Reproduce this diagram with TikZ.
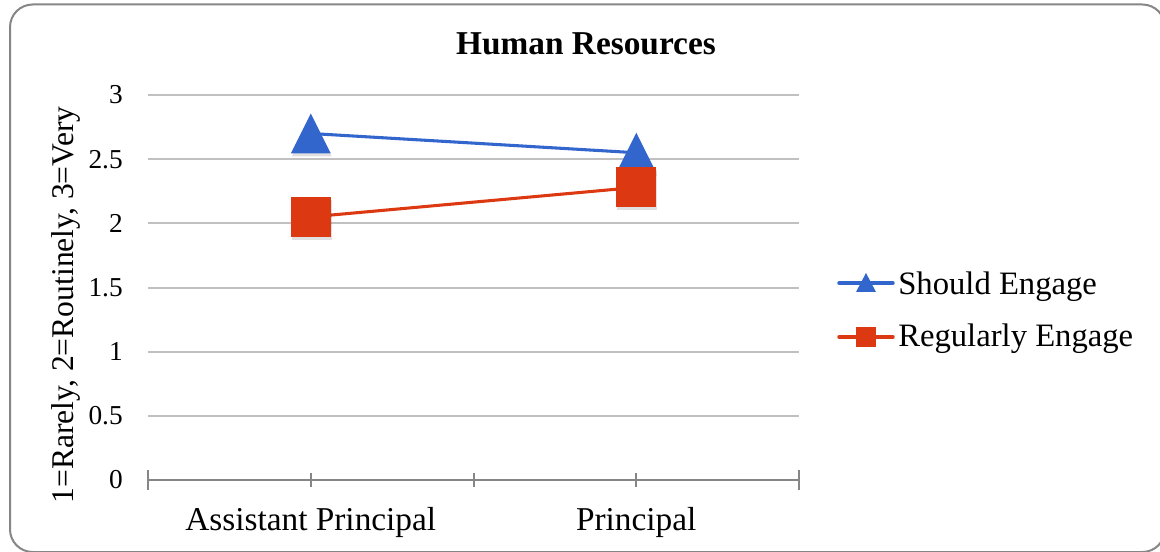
\documentclass[tikz,border=0pt]{standalone}
\usepackage{fontspec}
\setmainfont{Liberation Serif}
\definecolor{shouldblue}{RGB}{51,102,204}
\definecolor{regred}{RGB}{220,57,18}
\definecolor{gridgray}{RGB}{192,192,192}
\definecolor{axisgray}{RGB}{134,134,134}
\tikzset{
  gridline/.style={gridgray,line width=1.5pt},
  axisline/.style={axisgray,line width=1.5pt},
  series/.style={line width=2.3pt},
  ticklab/.style={anchor=east,inner sep=0pt,font=\fontsize{20.5}{24}\selectfont},
  catlab/.style={anchor=base,inner sep=0pt,font=\fontsize{25}{30}\selectfont},
  leglab/.style={anchor=base west,inner sep=0pt,font=\fontsize{24.5}{29}\selectfont},
  shadow/.style={black,opacity=0.12}
}
\begin{document}
\begin{tikzpicture}[x=0.75pt,y=-0.75pt]
	\useasboundingbox (0,0) rectangle (1160,552);
	\draw[axisgray,line width=1.5pt,rounded corners=17pt] (10,4.5) rectangle (1165,552);
	
	\node[anchor=base,inner sep=0pt,font=\fontsize{25}{30}\selectfont\bfseries] (title) at (586,55) {Human Resources};
	
	\foreach \v/\lab in {0.5/0.5,1/1,1.5/1.5,2/2,2.5/2.5,3/3}
		\draw[gridline] (148,480-\v*128.33) -- (799,480-\v*128.33);
	\foreach \v/\lab in {0/0,0.5/0.5,1/1,1.5/1.5,2/2,2.5/2.5,3/3}
		\node[ticklab] (y\lab) at (123,480-\v*128.33) {\lab};
	\draw[axisline] (148,480) -- (799,480);
	\foreach \x in {148,799}
		\draw[axisline] (\x,470) -- (\x,490);
	\foreach \x in {310.75,473.5,636.25}
		\draw[axisline] (\x,473) -- (\x,487);
	
	\node[catlab] (ap) at (310.75,530) {Assistant Principal};
	\node[catlab] (pr) at (636.25,530) {Principal};
	\node[anchor=base,rotate=90,inner sep=0pt,font=\fontsize{23.7}{28}\selectfont] (ytitle) at (73,305) {1=Rarely, 2=Routinely, 3=Very};
	
	\coordinate (sa) at (310.75,133.5);
	\coordinate (sp) at (636.25,152.75);
	\coordinate (ra) at (310.75,216.9);
	\coordinate (rp) at (636.25,187.4);
	\draw[series,shouldblue] (sa) -- (sp);
	\draw[series,regred] (ra) -- (rp);
	\foreach \p in {sa,sp}{
		\fill[shadow] (\p) ++(-19,23) -- ++(40,0) -- ++(-20,-40) -- cycle;
		\fill[shouldblue] (\p) ++(-20,20) -- ++(40,0) -- ++(-20,-40) -- cycle;
	}
	\foreach \p in {ra,rp}{
		\fill[shadow] (\p) ++(-19,-17) rectangle ++(40,40);
		\fill[regred] (\p) ++(-20,-20) rectangle ++(40,40);
	}
	
	\coordinate (l1a) at (839,283);
	\coordinate (l1b) at (893,283);
	\coordinate (l2a) at (839,337);
	\coordinate (l2b) at (893,337);
	\draw[series,shouldblue,line width=2.6pt,line cap=round] (l1a) -- (l1b);
	\fill[shouldblue] (866,283) ++(-10,9) -- ++(20,0) -- ++(-10,-19) -- cycle;
	\draw[series,regred,line width=2.6pt,line cap=round] (l2a) -- (l2b);
	\fill[regred] (866,337) ++(-10,-10) rectangle ++(20,20);
	\node[leglab] (should) at (898,295) {Should Engage};
	\node[leglab] (regular) at (898,346.5) {Regularly Engage};
\end{tikzpicture}
\end{document}
